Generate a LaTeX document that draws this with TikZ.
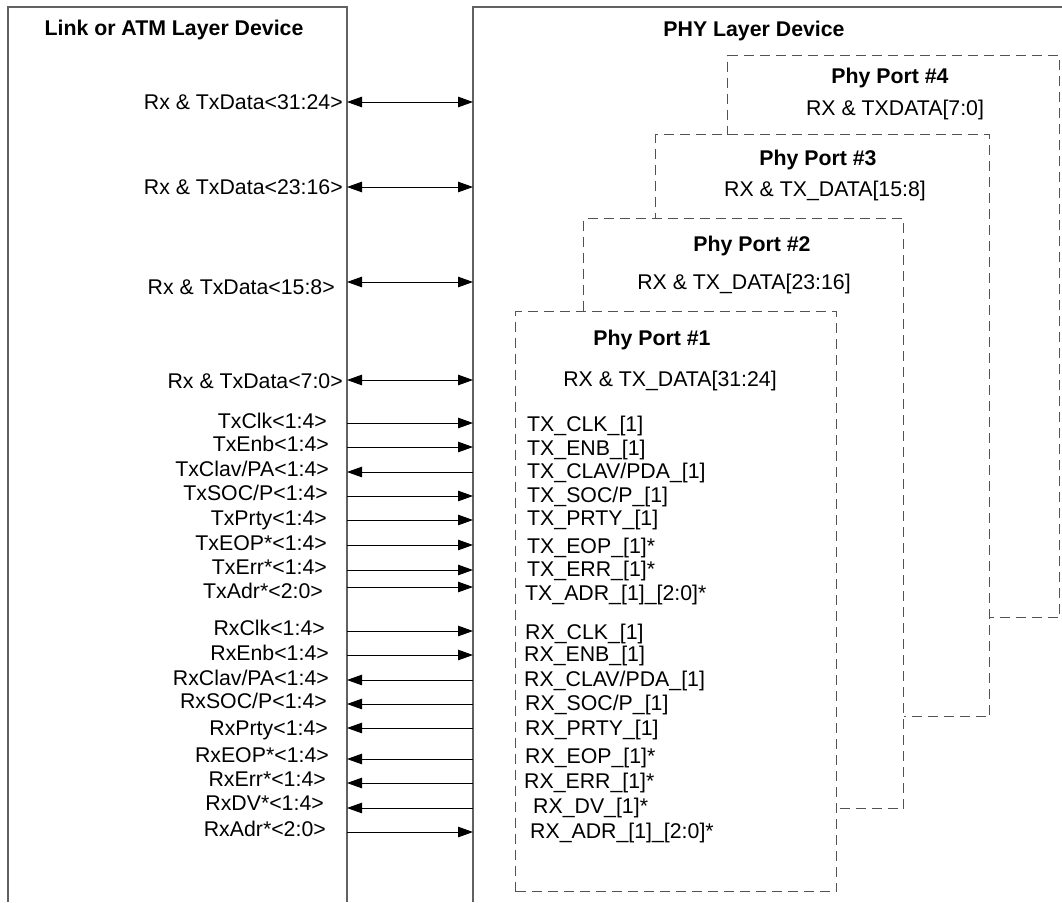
\documentclass[tikz,border=0pt]{standalone}
\usepackage{fontspec}
\setmainfont{Liberation Sans}
\usetikzlibrary{arrows.meta}
\begin{document}
\begin{tikzpicture}[x=1pt,y=-1pt,
  frame/.style={draw=black!62, line width=1.4pt},
  port/.style={draw=black!68, fill=white, line width=1.3pt, dash pattern=on 10pt off 6pt, inner sep=0pt, anchor=north west},
  lbl/.style={inner sep=0pt, font=\fontsize{21.3}{24}\selectfont},
  llbl/.style={lbl, anchor=base east},
  rlbl/.style={lbl, anchor=base west},
  ttl/.style={inner sep=0pt, anchor=base, font=\fontsize{21.3}{24}\selectfont\bfseries},
  ctr/.style={lbl, anchor=base},
  tip/.tip={Triangle[length=15pt,width=10.5pt]},
  rt/.style={draw=black, line width=1pt, -tip},
  lt/.style={draw=black, line width=1pt, tip-},
  bi/.style={draw=black, line width=1pt, tip-tip}]
\path[use as bounding box] (0,0) rectangle (1062,902);

% device frames
\coordinate (lkBL) at (8,902);
\coordinate (lkTL) at (8,7);
\coordinate (lkTR) at (347,7);
\coordinate (lkBR) at (347,902);
\coordinate (phBL) at (473,902);
\coordinate (phTL) at (473,7);
\coordinate (phTR) at (1062,7);
\draw[frame] (lkBL) -- (lkTL) -- (lkTR) -- (lkBR);
\draw[frame] (phBL) -- (phTL) -- (phTR);
\node[ttl] (lktitle) at (174,35) {Link or ATM Layer Device};
\node[ttl] (phtitle) at (754,36) {PHY Layer Device};

% phy ports (back to front)
\node[port, minimum width=332pt, minimum height=562pt] (p4) at (727,55) {};
\node[port, minimum width=334pt, minimum height=582pt] (p3) at (655,134) {};
\node[port, minimum width=320pt, minimum height=590pt] (p2) at (583,218) {};
\node[port, minimum width=321pt, minimum height=580pt] (p1) at (515,311) {};

\node[ttl] (p4t) at (890,83) {Phy Port \#4};
\node[ctr] (p4d) at (895,115) {RX \& TXDATA[7:0]};
\node[ttl] (p3t) at (818,165) {Phy Port \#3};
\node[ctr] (p3d) at (825,196) {RX \& TX\_DATA[15:8]};
\node[ttl] (p2t) at (752,251) {Phy Port \#2};
\node[ctr] (p2d) at (744,289) {RX \& TX\_DATA[23:16]};
\node[ttl] (p1t) at (652,345) {Phy Port \#1};
\node[ctr] (p1d) at (670,386) {RX \& TX\_DATA[31:24]};

% left labels
\node[llbl] (l1) at (343,109) {Rx \& TxData<31:24>};
\node[llbl] (l2) at (343,194) {Rx \& TxData<23:16>};
\node[llbl] (l3) at (335,294) {Rx \& TxData<15:8>};
\node[llbl] (l4) at (343,388) {Rx \& TxData<7:0>};
\node[llbl] (l5) at (327,428) {TxClk<1:4>};
\node[llbl] (l6) at (329,451) {TxEnb<1:4>};
\node[llbl] (l7) at (329,476) {TxClav/PA<1:4>};
\node[llbl] (l8) at (328,500) {TxSOC/P<1:4>};
\node[llbl] (l9) at (327,525) {TxPrty<1:4>};
\node[llbl] (l10) at (327,550) {TxEOP*<1:4>};
\node[llbl] (l11) at (327,574) {TxErr*<1:4>};
\node[llbl] (l12) at (323,598) {TxAdr*<2:0>};
\node[llbl] (l13) at (325,635) {RxClk<1:4>};
\node[llbl] (l14) at (329,660) {RxEnb<1:4>};
\node[llbl] (l15) at (329,685) {RxClav/PA<1:4>};
\node[llbl] (l16) at (327,708) {RxSOC/P<1:4>};
\node[llbl] (l17) at (328,735) {RxPrty<1:4>};
\node[llbl] (l18) at (329,762) {RxEOP*<1:4>};
\node[llbl] (l19) at (326,786) {RxErr*<1:4>};
\node[llbl] (l20) at (324,810) {RxDV*<1:4>};
\node[llbl] (l21) at (326,836) {RxAdr*<2:0>};

% right labels
\node[rlbl] (r5) at (527,431) {TX\_CLK\_[1]};
\node[rlbl] (r6) at (527,455) {TX\_ENB\_[1]};
\node[rlbl] (r7) at (527,478) {TX\_CLAV/PDA\_[1]};
\node[rlbl] (r8) at (527,502) {TX\_SOC/P\_[1]};
\node[rlbl] (r9) at (527,525) {TX\_PRTY\_[1]};
\node[rlbl] (r10) at (527,553) {TX\_EOP\_[1]*};
\node[rlbl] (r11) at (527,576) {TX\_ERR\_[1]*};
\node[rlbl] (r12) at (525,600) {TX\_ADR\_[1]\_[2:0]*};
\node[rlbl] (r13) at (525,639) {RX\_CLK\_[1]};
\node[rlbl] (r14) at (524,661) {RX\_ENB\_[1]};
\node[rlbl] (r15) at (524,686) {RX\_CLAV/PDA\_[1]};
\node[rlbl] (r16) at (525,710) {RX\_SOC/P\_[1]};
\node[rlbl] (r17) at (525,735) {RX\_PRTY\_[1]};
\node[rlbl] (r18) at (525,763) {RX\_EOP\_[1]*};
\node[rlbl] (r19) at (524,788) {RX\_ERR\_[1]*};
\node[rlbl] (r20) at (533,813) {RX\_DV\_[1]*};
\node[rlbl] (r21) at (530,838) {RX\_ADR\_[1]\_[2:0]*};

% connectors between the two device frames
\foreach \y/\s [count=\i] in {102/bi,187/bi,282/bi,380/bi,423/rt,447/rt,472/lt,496/rt,520/rt,545/rt,570/rt,587/rt,631/rt,655/rt,680/lt,704/lt,728/lt,759/lt,783/lt,808/lt,832/rt}{
  \coordinate (A\i) at (347,\y);
  \coordinate (B\i) at (473,\y);
  \draw[\s] (A\i) -- (B\i);
}
\end{tikzpicture}
\end{document}
